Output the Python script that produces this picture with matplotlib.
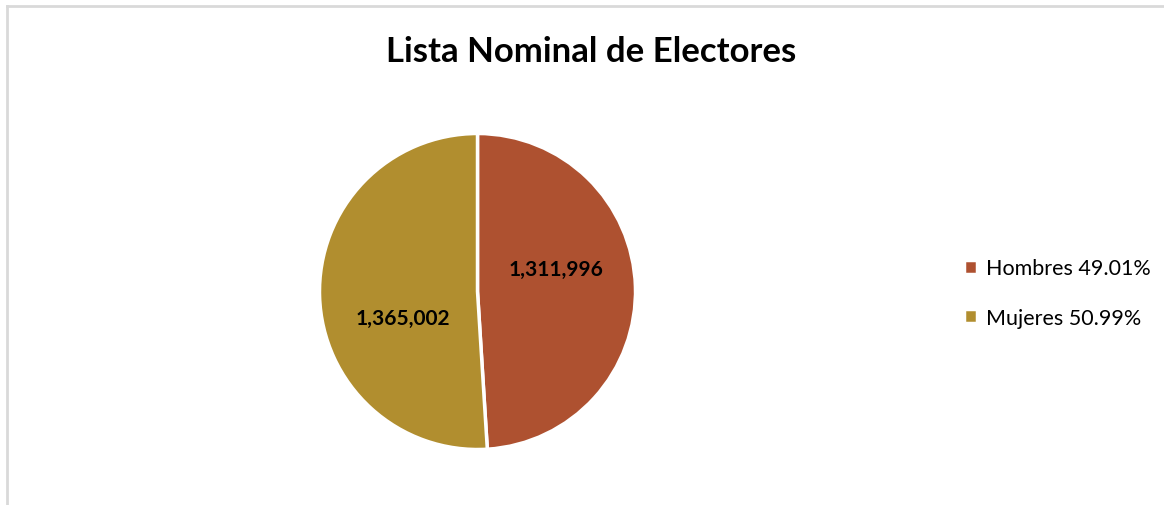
import numpy as np
import matplotlib.pyplot as plt
from matplotlib.lines import Line2D

title = 'Lista Nominal de Electores'
categories = ['Hombres', 'Mujeres']
values = [1311996, 1365002]
colors = ['#AE5130', '#B18E2F']

plt.rcParams['font.family'] = ['Lato', 'DejaVu Sans']

fig = plt.figure(figsize=(11.64, 5.06), dpi=100)
W, H = 1164, 506

# light grey chart frame (only top and left edges visible in the crop)
fig.add_artist(Line2D([6.5 / W, 6.5 / W], [0, 1 - 6.5 / H], transform=fig.transFigure,
                      color='#D9D9D9', lw=2))
fig.add_artist(Line2D([6.5 / W, 1], [1 - 6.5 / H, 1 - 6.5 / H], transform=fig.transFigure,
                      color='#D9D9D9', lw=2))

cx, cy, r = 477.5, 292.5, 158
ax = fig.add_axes([(cx - r) / W, 1 - (cy + r) / H, 2 * r / W, 2 * r / H])
wedges, _ = ax.pie(values, colors=colors, startangle=90, counterclock=False,
                   wedgeprops=dict(edgecolor='white', linewidth=2.5))
ax.set_xlim(-1, 1)
ax.set_ylim(-1, 1)
ax.set_aspect('auto')
ax.axis('off')

# data labels, placed roughly where Excel's best-fit puts them
label_pos = [(0.50, 0.14), (-0.47, -0.17)]
for v, (x, y) in zip(values, label_pos):
    ax.text(x, y, f'{v:,}', ha='center', va='center', fontsize=15,
            fontweight='bold', color='black')

total = sum(values)
leg_labels = [f'{c} {v / total * 100:.2f}%' for c, v in zip(categories, values)]
fig.legend(wedges, leg_labels, loc='center left', bbox_to_anchor=(945 / W, 1 - 294 / H),
           frameon=False, fontsize=15.5, handlelength=0.6, handleheight=0.6,
           handletextpad=0.4, labelspacing=1.35)

fig.text(591 / W, 1 - 52 / H, title, ha='center', va='center', fontsize=25,
         fontweight='bold')

fig.savefig('out.png', dpi=100)
